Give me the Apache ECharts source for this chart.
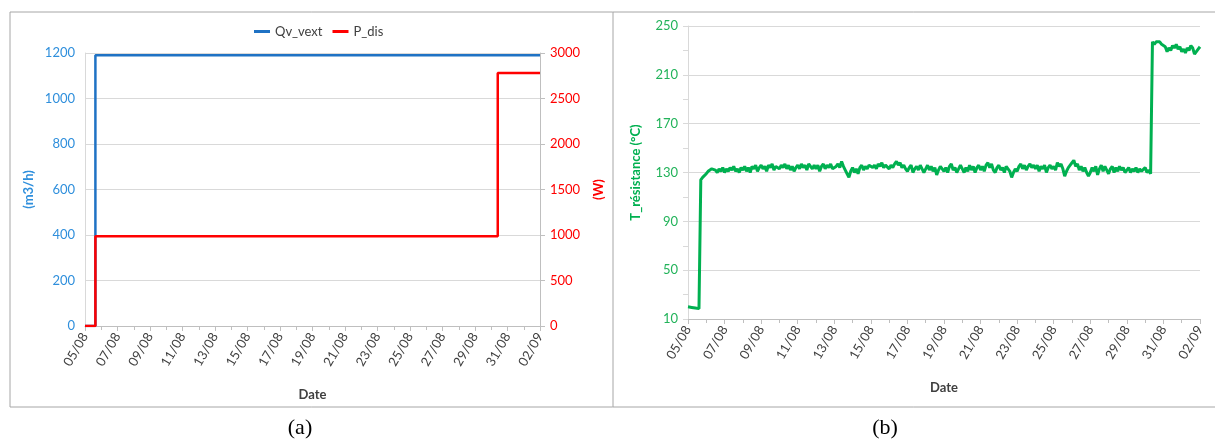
<!DOCTYPE html>
<html>
<head>
<meta charset="utf-8">
<script src="https://cdn.jsdelivr.net/npm/echarts@6/dist/echarts.min.js"></script>
<style>
  html, body { margin: 0; padding: 0; background: #fff; }
  .demo { width: 1215px; height: 441px; }
</style>
</head>
<body>
<div class="demo"></div>
<script>
// x values are days since 05/08
const dateLabels = ['05/08','07/08','09/08','11/08','13/08','15/08','17/08','19/08','21/08','23/08','25/08','27/08','29/08','31/08','02/09']

// chart (a)
const qvDays = [0, 0.64, 28]
const qvValues = [0, 1190, 1190]
const pDays = [0, 0.64, 25.4, 28]
const pValues = [0, 985, 2780, 2780]

// chart (b) : one reading every 0.1 day from 05/08, one row per day
const tempStep = 0.1
const tempValues = [
  20,20,19.5,19,19,18.5,18.5,124,126,127,
  129,131,130,133,134,132,130,133,131,134,
  130,133,131,134,132,135,131,133,130,134,
  132,135,131,134,130,135,133,136,131,134,
  136,133,135,131,136,134,137,132,135,136,
  133,136,134,137,133,136,132,135,131,134,
  136,133,137,134,136,132,137,135,133,136,
  133,136,131,135,137,133,136,134,137,133,
  132,135,137,134,139,135,132,129,126,131,
  134,130,133,129,134,136,132,135,133,136,
  137,134,136,133,137,135,138,134,136,135,
  133,136,134,137,139,136,138,134,136,133,
  131,134,136,130,133,135,132,136,133,130,
  133,136,132,135,131,134,128,132,135,133,
  131,134,130,135,137,132,134,130,133,136,
  133,130,134,131,136,132,135,130,134,136,
  132,135,131,136,138,134,137,132,130,134,
  136,132,134,130,135,133,131,126,130,133,
  131,135,137,133,136,132,135,137,134,136,
  133,136,131,135,133,136,130,134,136,133,
  135,132,138,135,137,133,127,131,134,136,
  138,140,135,137,132,135,131,134,130,127,
  130,134,131,135,128,133,136,131,135,132,
  129,133,135,130,134,131,135,132,134,130,
  132,134,130,133,131,134,130,133,131,132,
  134,130,132,129,237,235,237,236,237,235,
  236,233,229,232,230,234,232,235,231,233,
  229,231,228,232,230,234,232,227,226,231,
  233
]
const tempData = tempValues.map((v, i) => [Math.round(i * tempStep * 10) / 10, v])

const chartinstance = echarts.init(document.querySelector('.demo'))
const font = 'Lato'
const axisGrey = '#bfbfbf'
const gridGrey = '#d9d9d9'
const labelGrey = '#404040'
const blue = '#1f72c4'
const red = '#ff0000'
const green = '#00b050'
const plain = v => String(v)

function dateAxis(gridIndex) {
  return {
    type: 'value',
    gridIndex: gridIndex,
    min: 0,
    max: 28,
    interval: 2,
    name: 'Date',
    nameLocation: 'middle',
    nameGap: 62,
    nameTextStyle: { fontFamily: font, fontSize: 13, fontWeight: 'bold', color: labelGrey },
    axisLine: { onZero: false, lineStyle: { color: axisGrey } },
    axisTick: { show: true, length: 5, lineStyle: { color: axisGrey } },
    minorTick: { show: true, splitNumber: 2, length: 4, lineStyle: { color: axisGrey } },
    splitLine: { show: false },
    axisLabel: {
      rotate: 60,
      fontFamily: font,
      fontSize: 13,
      color: labelGrey,
      margin: 8,
      formatter: v => dateLabels[Math.round(v / 2)]
    }
  }
}

const option = {
  animation: false,
  legend: {
    left: 249,
    top: 20,
    itemWidth: 16,
    itemHeight: 3,
    itemGap: 10,
    icon: 'rect',
    textStyle: { fontFamily: font, fontSize: 13, color: labelGrey },
    data: ['Qv_vext', 'P_dis']
  },
  grid: [
    { left: 85, right: 675, top: 53, bottom: 115 },
    { left: 688, right: 15, top: 26, bottom: 122 }
  ],
  xAxis: [dateAxis(0), dateAxis(1)],
  yAxis: [
    {
      type: 'value',
      gridIndex: 0,
      min: 0,
      max: 1200,
      interval: 200,
      name: '(m3/h)',
      nameLocation: 'middle',
      nameGap: 50,
      nameTextStyle: { fontFamily: font, fontSize: 13, fontWeight: 'bold', color: '#2f8fdc' },
      axisLine: { show: true, lineStyle: { color: gridGrey } },
      axisTick: { show: false },
      axisLabel: { fontFamily: font, fontSize: 13, color: '#2f8fdc', margin: 10, formatter: plain },
      splitLine: { lineStyle: { color: gridGrey } }
    },
    {
      type: 'value',
      gridIndex: 0,
      position: 'right',
      min: 0,
      max: 3000,
      interval: 500,
      name: '(W)',
      nameLocation: 'middle',
      nameGap: 52,
      nameTextStyle: { fontFamily: font, fontSize: 13, fontWeight: 'bold', color: red },
      axisLine: { show: true, lineStyle: { color: axisGrey } },
      axisTick: { show: true, length: 5, lineStyle: { color: axisGrey } },
      axisLabel: { fontFamily: font, fontSize: 13, color: red, margin: 10, formatter: plain },
      splitLine: { show: false }
    },
    {
      type: 'value',
      gridIndex: 1,
      min: 10,
      max: 250,
      interval: 40,
      name: 'T_résistance (°C)',
      nameLocation: 'middle',
      nameGap: 46,
      nameTextStyle: { fontFamily: font, fontSize: 13, fontWeight: 'bold', color: green },
      axisLine: { show: true, lineStyle: { color: gridGrey } },
      axisTick: { show: true, length: 5, lineStyle: { color: gridGrey } },
      minorTick: { show: true, splitNumber: 2, length: 5, lineStyle: { color: gridGrey } },
      axisLabel: { fontFamily: font, fontSize: 13, color: '#22b35a', margin: 10, formatter: plain },
      splitLine: { lineStyle: { color: gridGrey } }
    }
  ],
  series: [
    {
      name: 'Qv_vext',
      type: 'line',
      xAxisIndex: 0,
      yAxisIndex: 0,
      step: 'end',
      symbol: 'none',
      lineStyle: { color: blue, width: 2.5 },
      itemStyle: { color: blue },
      data: qvDays.map((d, i) => [d, qvValues[i]])
    },
    {
      name: 'P_dis',
      type: 'line',
      xAxisIndex: 0,
      yAxisIndex: 1,
      step: 'end',
      symbol: 'none',
      lineStyle: { color: red, width: 2.5 },
      itemStyle: { color: red },
      data: pDays.map((d, i) => [d, pValues[i]])
    },
    {
      name: 'T_résistance',
      type: 'line',
      xAxisIndex: 1,
      yAxisIndex: 2,
      symbol: 'none',
      lineStyle: { color: green, width: 3 },
      itemStyle: { color: green },
      data: tempData
    }
  ],
  graphic: [
    { type: 'line', shape: { x1: 10, y1: 12, x2: 1215, y2: 12 }, style: { stroke: '#a6a6a6', lineWidth: 1 } },
    { type: 'line', shape: { x1: 10, y1: 407, x2: 1215, y2: 407 }, style: { stroke: '#a6a6a6', lineWidth: 1 } },
    { type: 'line', shape: { x1: 10, y1: 12, x2: 10, y2: 407 }, style: { stroke: '#a6a6a6', lineWidth: 1 } },
    { type: 'line', shape: { x1: 613, y1: 12, x2: 613, y2: 407 }, style: { stroke: '#a6a6a6', lineWidth: 1 } },
    { type: 'text', x: 300, y: 428, style: { text: '(a)', font: '22px "Liberation Serif"', fill: '#000', textAlign: 'center', textVerticalAlign: 'middle' } },
    { type: 'text', x: 885, y: 428, style: { text: '(b)', font: '22px "Liberation Serif"', fill: '#000', textAlign: 'center', textVerticalAlign: 'middle' } }
  ]
}
option && chartinstance.setOption(option)
window.addEventListener('resize', () => {
  chartinstance.resize()
})
</script>
</body>
</html>
